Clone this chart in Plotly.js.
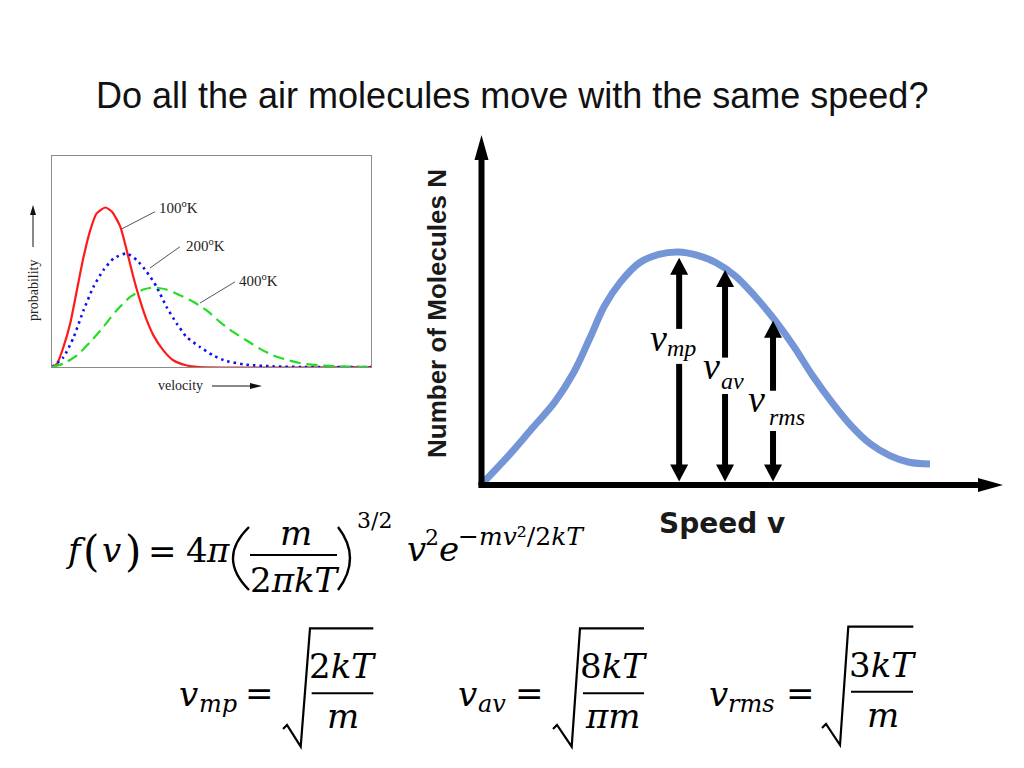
<!DOCTYPE html>
<html><head><meta charset="utf-8">
<script src="https://cdn.plot.ly/plotly-3.0.1.min.js"></script>
<style>html,body{margin:0;padding:0;background:#fff;overflow:hidden}#chart{width:1024px;height:768px}</style>
</head><body><div id="chart"></div>
<script>
// ================= DATA =================
const titleText = 'Do all the air molecules move with the same speed?';

// left chart: Maxwell distributions at three temperatures (arbitrary units 0-100)
const tempLabels = ['100<sup>o</sup>K', '200<sup>o</sup>K', '400<sup>o</sup>K'];
const velocity100 = [0, 1.6, 3.6, 5.7, 7.8, 9.9, 12, 14, 16.7, 18.8, 21.4, 23.4, 25.5, 27.6, 29.7, 31.8, 34.9, 38, 42, 46, 100];
const prob100     = [0, 1.6, 9.5, 20.6, 36.4, 52.2, 64.9, 72.8, 75.6, 73.6, 66.5, 55.4, 42.7, 31.6, 22.2, 15, 7.9, 3.2, 0.8, 0, 0];
const velocity200 = [0, 3.6, 6.8, 9.9, 13, 16.1, 19.3, 23.4, 26.6, 29.7, 32.8, 35.9, 39.1, 42.2, 46.4, 50.5, 54.7, 60.9, 69.3, 78.6, 100];
const prob200     = [0, 4.7, 14.2, 26.9, 38, 45.9, 51.4, 53.8, 50.6, 45.1, 38, 28.5, 20.6, 14.2, 9.5, 5.5, 2.8, 1.1, 0.3, 0, 0];
const velocity400 = [0, 3.6, 7.8, 12, 16.1, 20.3, 24.5, 28.6, 31.8, 35.9, 40.1, 44.3, 48.4, 52.6, 56.8, 60.9, 65.1, 69.3, 73.4, 78.6, 83.9, 90.1, 100];
const prob400     = [0, 1.6, 5.5, 11.9, 19, 26.9, 33.2, 36.7, 37.7, 36.7, 34, 30.9, 26.9, 21.4, 16.6, 12.7, 8.7, 5.5, 3.5, 1.6, 0.8, 0.3, 0];
const leftYTitle = 'probability';
const leftXTitle = 'velocity';

// right chart: generic speed distribution (arbitrary units)
const speedAxisTitle = 'Speed v';
const countAxisTitle = 'Number of Molecules N';
const speed     = [4, 52, 96, 140, 177, 207, 236, 266, 303, 340, 377, 413, 450, 487, 524, 561, 598, 635, 672, 709, 746, 783, 820, 860];
const molecules = [0.8, 8.4, 16, 23.6, 32.2, 41.7, 51.2, 57.9, 63.5, 65.9, 66.6, 65.7, 63.5, 59.7, 54, 47.4, 39.8, 31.2, 23.6, 16.9, 11.7, 8.4, 6.5, 6];
const markerNames  = ['mp', 'av', 'rms'];
const markerSpeed  = [379, 467, 559];
const markerHeight = [64.9, 61.4, 46.9];

// ================= LAYOUT HELPERS =================
const W = 1024, H = 768;
const px = X => X / W;
const py = Y => 1 - Y / H;
const FONTS = {
  math:  {family: 'DejaVu Serif, serif', k: 0.346},
  serif: {family: 'Liberation Serif, Times New Roman, serif', k: 0.3375},
  sans:  {family: 'Liberation Sans, Arial, sans-serif', k: 0.3465},
  dsans: {family: 'DejaVu Sans, sans-serif', k: 0.346}
};
function txt(text, X, baseline, size, fontKey, extra) {
  const f = FONTS[fontKey];
  return Object.assign({
    xref: 'paper', yref: 'paper', x: px(X), y: py(baseline - f.k * size),
    xanchor: 'center', yanchor: 'middle', showarrow: false, text: text,
    font: {family: f.family, size: size, color: '#000'}
  }, extra || {});
}
function pline(x0, y0, x1, y1, w, c) {
  return {type: 'line', xref: 'paper', yref: 'paper', x0: px(x0), y0: py(y0), x1: px(x1), y1: py(y1),
          line: {color: c || '#000', width: w}};
}
function ppath(pts, w) {
  const d = 'M' + pts.map(p => px(p[0]) + ',' + py(p[1])).join(' L');
  return {type: 'path', xref: 'paper', yref: 'paper', path: d, line: {color: '#000', width: w}};
}
function phead(X, Y, path, color) {
  return {type: 'path', xref: 'paper', yref: 'paper', xsizemode: 'pixel', ysizemode: 'pixel',
          xanchor: px(X), yanchor: py(Y), path: path, fillcolor: color || '#000', line: {width: 0}};
}

// plot boxes (pixels)
const leftBox  = {l: 52, r: 371, t: 156, b: 367};
// right chart: speed 0..1000 spans x 481.5..1003 px, N 0..100 spans y 485..135 px
const rightAxisPx = {x0: 481.5, x1: 1003, y0: 485, y1: 135};
const sFull = 1000, nFull = 100;
const pxPerS = (rightAxisPx.x1 - rightAxisPx.x0) / sFull;
const pxPerN = (rightAxisPx.y0 - rightAxisPx.y1) / nFull;
const sPad = 20, nPad = 6;   // extra room so axis lines and heads are not clipped
const sRange = [-sPad, sFull + sPad], nRange = [-nPad, nFull + nPad];
const rightDomX = [px(rightAxisPx.x0 - sPad * pxPerS), px(rightAxisPx.x1 + sPad * pxPerS)];
const rightDomY = [py(rightAxisPx.y0 + nPad * pxPerN), py(rightAxisPx.y1 - nPad * pxPerN)];

// ================= TRACES =================
const traces = [
  {x: velocity100, y: prob100, xaxis: 'x', yaxis: 'y', mode: 'lines', hoverinfo: 'skip',
   line: {color: '#ff1a1a', width: 2.2, shape: 'spline', smoothing: 0.6}},
  {x: velocity200, y: prob200, xaxis: 'x', yaxis: 'y', mode: 'lines', hoverinfo: 'skip',
   line: {color: '#1010ee', width: 2.6, dash: '2.5px,4px', shape: 'spline', smoothing: 0.6}},
  {x: velocity400, y: prob400, xaxis: 'x', yaxis: 'y', mode: 'lines', hoverinfo: 'skip',
   line: {color: '#22dd22', width: 2.2, dash: '11px,6px', shape: 'spline', smoothing: 0.6}},
  {x: speed, y: molecules, xaxis: 'x2', yaxis: 'y2', mode: 'lines', hoverinfo: 'skip',
   line: {color: '#7495d6', width: 7, shape: 'spline', smoothing: 1.0}}
];

// ================= SHAPES =================
const shapes = [];
// right chart axes with arrowheads
shapes.push({type: 'line', xref: 'x2', yref: 'y2', x0: -6, y0: 0, x1: sFull - 40, y1: 0, line: {color: '#000', width: 6}});
shapes.push({type: 'line', xref: 'x2', yref: 'y2', x0: 0, y0: 0, x1: 0, y1: nFull - 5, line: {color: '#000', width: 6}});
shapes.push({type: 'path', xref: 'x2', yref: 'y2', xsizemode: 'pixel', ysizemode: 'pixel', xanchor: sFull, yanchor: 0,
             path: 'M0,0 L-25,7 L-25,-7 Z', fillcolor: '#000', line: {width: 0}});
shapes.push({type: 'path', xref: 'x2', yref: 'y2', xsizemode: 'pixel', ysizemode: 'pixel', xanchor: 0, yanchor: nFull,
             path: 'M0,0 L-7,-25 L7,-25 Z', fillcolor: '#000', line: {width: 0}});
// marker arrows (double-headed, with a gap for the label)
const markerGaps = [[44.6, 34.6], [36.4, 26], [26.9, 15.4]];
const markerBase = 1;
const inset = 10 / pxPerN;
markerSpeed.forEach((s, i) => {
  const top = markerHeight[i];
  shapes.push({type: 'line', xref: 'x2', yref: 'y2', x0: s, x1: s, y0: top - inset, y1: markerGaps[i][0], line: {color: '#000', width: 6}});
  shapes.push({type: 'line', xref: 'x2', yref: 'y2', x0: s, x1: s, y0: markerGaps[i][1], y1: markerBase + inset, line: {color: '#000', width: 6}});
  shapes.push({type: 'path', xref: 'x2', yref: 'y2', xsizemode: 'pixel', ysizemode: 'pixel', xanchor: s, yanchor: top,
               path: 'M0,0 L-9,-17 L9,-17 Z', fillcolor: '#000', line: {width: 0}});
  shapes.push({type: 'path', xref: 'x2', yref: 'y2', xsizemode: 'pixel', ysizemode: 'pixel', xanchor: s, yanchor: markerBase,
               path: 'M0,0 L-9,17 L9,17 Z', fillcolor: '#000', line: {width: 0}});
});
// left chart leader lines (in left-chart data units)
const leaders = [[21.8, 65.4, 32.3, 73.6], [30.7, 46.9, 40.1, 57.0], [46.4, 30.3, 57.4, 40.4]];
leaders.forEach(l => shapes.push({type: 'line', xref: 'x', yref: 'y', x0: l[0], y0: l[1], x1: l[2], y1: l[3], line: {color: '#555', width: 1}}));
// left chart axis-title arrows
shapes.push(pline(33, 247, 33, 212, 1, '#111'));
shapes.push(phead(33, 205, 'M0,0 L-3,-10 L3,-10 Z', '#111'));
shapes.push(pline(212, 386, 254, 386, 1, '#111'));
shapes.push(phead(262, 386, 'M0,0 L-12,3 L-12,-3 Z', '#111'));
// formula decorations: parentheses, fraction bars, radicals
shapes.push({type: 'path', xref: 'paper', yref: 'paper', line: {color: '#000', width: 2.4},
  path: `M${px(249)},${py(527)} Q${px(217)},${py(558)} ${px(249)},${py(590)}`});
shapes.push({type: 'path', xref: 'paper', yref: 'paper', line: {color: '#000', width: 2.4},
  path: `M${px(338)},${py(527)} Q${px(362)},${py(558)} ${px(338)},${py(590)}`});
shapes.push(pline(250, 555, 337, 555, 2));
shapes.push(pline(311.7, 693.3, 373.3, 693.3, 2));
shapes.push(pline(583, 693.3, 644, 693.3, 2));
shapes.push(pline(851, 691.7, 913, 691.7, 2));
shapes.push(ppath([[283, 729], [287, 725], [300.7, 746.7], [310, 628.3], [373.3, 628.3]], 2.2));
shapes.push(ppath([[553, 729], [557, 725], [571.7, 746.7], [580, 628.3], [644, 628.3]], 2.2));
shapes.push(ppath([[822, 728], [826, 724], [840, 745], [848.3, 626.7], [913.3, 626.7]], 2.2));

// ================= ANNOTATIONS =================
const ann = [];
ann.push(txt(titleText, 511.5, 108, 36, 'sans', {font: {family: FONTS.sans.family, size: 36, color: '#111'}}));
// left chart labels
const tempLabelPos = [[32.9, 75.8], [41.4, 57.8], [58.0, 41.2]];
tempLabels.forEach((t, i) => ann.push({xref: 'x', yref: 'y', x: tempLabelPos[i][0], y: tempLabelPos[i][1], text: t,
  xanchor: 'left', yanchor: 'middle', showarrow: false, font: {family: FONTS.serif.family, size: 15, color: '#222'}}));
ann.push(txt(leftYTitle, 33, 291 + 0.3375 * 14, 14, 'serif', {textangle: -90, font: {family: FONTS.serif.family, size: 14, color: '#222'}}));
ann.push(txt(leftXTitle, 180.5, 390, 14, 'serif', {font: {family: FONTS.serif.family, size: 14, color: '#222'}}));
// right chart titles
ann.push(txt('<b>' + countAxisTitle + '</b>', 437, 314 + 0.3465 * 26, 26, 'sans', {textangle: -90, font: {family: FONTS.sans.family, size: 26, color: '#1a1a1a'}}));
ann.push(txt('<b>' + speedAxisTitle + '</b>', 722, 533, 28, 'dsans', {font: {family: FONTS.dsans.family, size: 28, color: '#1a1a1a'}}));
// marker labels
const markerLabelPos = [[658.5, 351, 681, 356], [711, 379, 732.5, 389], [756.5, 412, 786.5, 425]];
markerNames.forEach((n, i) => {
  const p = markerLabelPos[i];
  ann.push(txt('<i>v</i>', p[0], p[1], 38, 'serif'));
  ann.push(txt('<i>' + n + '</i>', p[2], p[3], 24, 'serif'));
});
// formulas
const formulaPieces = [
  ['<i>f</i>', 75, 562, 34], ['(', 91, 566, 42], ['<i>v</i>', 111, 562, 34], [')', 132.5, 566, 42],
  ['=', 162.5, 563, 34], ['4', 196.7, 562, 34], ['<i>π</i>', 218.3, 562, 34],
  ['<i>m</i>', 296, 545, 34], ['2<i>πkT</i>', 295, 592, 34],
  ['3/2', 374, 528, 22], ['<i>v</i>', 416, 561, 34], ['2', 432, 545, 22], ['<i>e</i>', 449, 561, 34],
  ['−<i>mv</i>²/2<i>kT</i>', 521, 545, 25],
  ['<i>v</i>', 188, 706, 34], ['<i>mp</i>', 217.5, 712, 24], ['=', 259, 705, 34],
  ['2<i>kT</i>', 342.5, 678, 34], ['<i>m</i>', 343, 728, 34],
  ['<i>v</i>', 467.5, 706, 34], ['<i>av</i>', 492.3, 712, 24], ['=', 529.2, 705, 34],
  ['8<i>kT</i>', 613.3, 678, 34], ['<i>πm</i>', 613.3, 728, 34],
  ['<i>v</i>', 718.3, 706, 34], ['<i>rms</i>', 751.7, 712, 24], ['=', 800.8, 705, 34],
  ['3<i>kT</i>', 882.5, 677, 34], ['<i>m</i>', 883, 727, 34]
];
formulaPieces.forEach(p => ann.push(txt(p[0], p[1], p[2], p[3], 'math')));

// ================= LAYOUT =================
const hiddenAxis = {showgrid: false, zeroline: false, showticklabels: false, ticks: '', fixedrange: true};
const layout = {
  width: W, height: H, margin: {l: 0, r: 0, t: 0, b: 0}, paper_bgcolor: '#fff', plot_bgcolor: 'rgba(0,0,0,0)',
  showlegend: false,
  xaxis: Object.assign({}, hiddenAxis, {domain: [px(leftBox.l), px(leftBox.r)], range: [0, 100], anchor: 'y',
          showline: true, mirror: true, linecolor: '#8a8a8a', linewidth: 1}),
  yaxis: Object.assign({}, hiddenAxis, {domain: [py(leftBox.b), py(leftBox.t)], range: [0, 100], anchor: 'x',
          showline: true, mirror: true, linecolor: '#8a8a8a', linewidth: 1}),
  xaxis2: Object.assign({}, hiddenAxis, {domain: rightDomX, range: sRange, anchor: 'y2', showline: false}),
  yaxis2: Object.assign({}, hiddenAxis, {domain: rightDomY, range: nRange, anchor: 'x2', showline: false}),
  shapes: shapes,
  annotations: ann
};
Plotly.newPlot('chart', traces, layout, {staticPlot: true, displayModeBar: false});
</script></body></html>
